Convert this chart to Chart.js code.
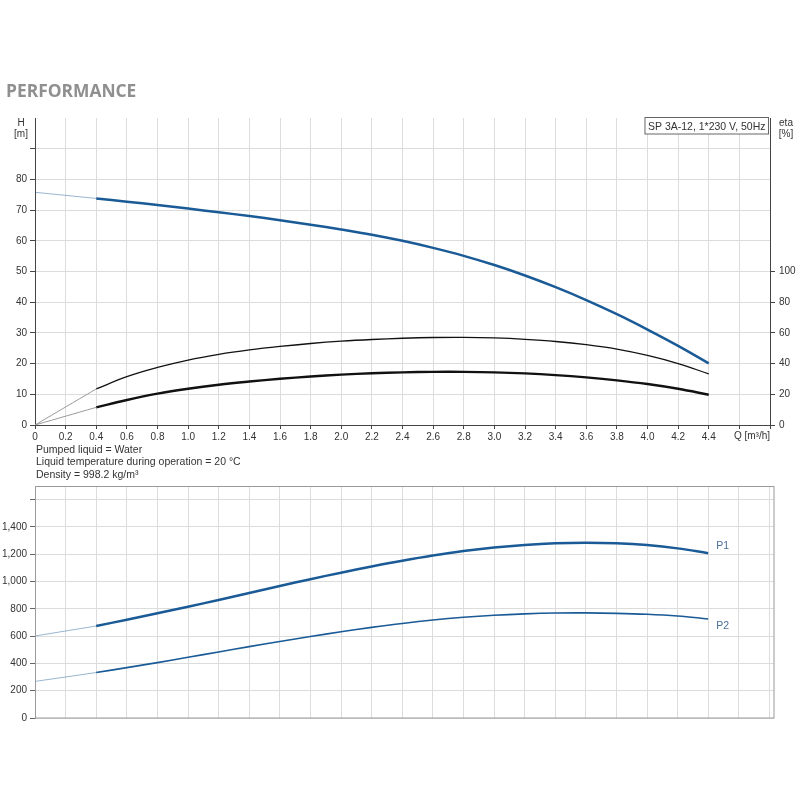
<!DOCTYPE html>
<html><head><meta charset="utf-8">
<script src="https://cdn.jsdelivr.net/npm/chart.js@4.4.1/dist/chart.umd.min.js"></script>
<style>
html,body{margin:0;padding:0;background:#fff;width:800px;height:800px;overflow:hidden;}
#c1{position:absolute;left:0;top:0;}
#c2{position:absolute;left:0;top:450px;}
.title{position:absolute;left:6px;top:77.5px;font:700 17.4px 'Open Sans';color:#8f8f8f;z-index:2;white-space:nowrap;}
.notes{position:absolute;left:36px;top:442.5px;font:10.5px 'Liberation Sans';color:#333;line-height:12.7px;z-index:2;white-space:nowrap;}
</style></head>
<body>
<div class="title">PERFORMANCE</div>
<canvas id="c1" width="800" height="450"></canvas>
<canvas id="c2" width="800" height="350"></canvas>
<div class="notes">Pumped liquid = Water<br>Liquid temperature during operation = 20 °C<br>Density = 998.2 kg/m³</div>
<script>
// ---- data ----
const flowQ    = [0.4,0.6,0.8,1.0,1.2,1.4,1.6,1.8,2.0,2.2,2.4,2.6,2.8,3.0,3.2,3.4,3.6,3.8,4.0,4.2,4.4];
const headH    = [73.8,72.75,71.65,70.5,69.3,68.05,66.7,65.25,63.7,62.0,60.0,57.7,55.1,52.1,48.7,44.9,40.7,36.1,31.1,25.8,20.1];
const etaPump  = [23.5,31.5,37.5,42.3,46.0,48.9,51.2,53.1,54.6,55.7,56.5,57.0,57.1,56.7,55.8,54.4,52.3,49.4,45.3,40.0,33.3];
const etaTotal = [11.5,16.3,20.4,23.6,26.2,28.3,30.1,31.6,32.8,33.7,34.3,34.6,34.6,34.3,33.6,32.5,31.0,29.1,26.7,23.6,19.7];
const powerP1  = [674,720,767,815,865,916,967,1017,1065,1110,1152,1190,1223,1249,1268,1280,1284,1280,1267,1243,1208];
const powerP2  = [333,369,406,445,484,523,561,597,632,664,693,718,738,753,763,769,770,767,760,747,726];
// extrapolated start values at Q = 0
const zeroQ = 0;
const headAtZero = 75.8;
const etaPumpAtZero = 0;
const etaTotalAtZero = 0;
const p1AtZero = 601;
const p2AtZero = 268;
// tick labels / texts
const modelLabel = 'SP 3A-12, 1*230 V, 50Hz';
const qAxisLabel = 'Q [m³/h]';
const hAxisLabel = ['H','[m]'];
const etaAxisLabel = ['eta','[%]'];
const pAxisLabel = ['P','[W]'];
const seriesNames = ['P1','P2'];

const pts = (xs, ys) => xs.map((x,i)=>({x:x, y:ys[i]}));
const ext = (y0, ys) => [{x:zeroQ, y:y0}, {x:flowQ[0], y:ys[0]}];

Chart.defaults.font.family = "'Liberation Sans', Arial, sans-serif";
Chart.defaults.font.size = 10;
Chart.defaults.color = '#333';

const BLUE = '#1a5a96';
const BLUE_LIGHT = 'rgba(26,90,150,0.45)';
const GRID = '#dcdcdc';
const AXIS = '#444';

const line = (data, color, w, axis) => ({data, borderColor:color, borderWidth:w, pointRadius:0, fill:false,
  tension:0.4, yAxisID:axis});

const topPlugin = {
  id:'topDeco',
  afterDraw(chart){
    const c = chart.ctx, a = chart.chartArea;
    c.save();
    c.fillStyle = '#333';
    c.font = "10px 'Liberation Sans'";
    c.textAlign = 'center'; c.textBaseline = 'alphabetic';
    c.fillText(hAxisLabel[0], 21, 126);
    c.fillText(hAxisLabel[1], 21, 136.5);
    c.fillText(etaAxisLabel[0], 786, 126);
    c.fillText(etaAxisLabel[1], 786, 136.5);
    c.textAlign = 'right';
    c.fillText(qAxisLabel, a.right, 439);
    // legend box
    c.font = "10.5px 'Liberation Sans'";
    const tw = c.measureText(modelLabel).width;
    const bx = a.right - tw - 8, by = 117.5, bw = tw + 6, bh = 16.5;
    c.fillStyle = '#fff';
    c.fillRect(bx, by, bw, bh);
    c.strokeStyle = '#666'; c.lineWidth = 1;
    c.strokeRect(bx+0.5, by, bw, bh);
    c.fillStyle = '#333'; c.textAlign = 'left';
    c.fillText(modelLabel, bx + 3.5, 129.5);
    c.restore();
  }
};

new Chart(document.getElementById('c1'), {
  type:'line',
  data:{datasets:[
    line(ext(etaPumpAtZero, etaPump), '#9a9a9a', 1, 'yEta'),
    line(ext(etaTotalAtZero, etaTotal), '#9a9a9a', 1, 'yEta'),
    line(ext(headAtZero, headH), BLUE_LIGHT, 1, 'y'),
    line(pts(flowQ, etaPump), '#111', 1.3, 'yEta'),
    line(pts(flowQ, etaTotal), '#111', 2.4, 'yEta'),
    line(pts(flowQ, headH), BLUE, 2.5, 'y')
  ]},
  options:{
    responsive:false, animation:false, devicePixelRatio:1,
    layout:{padding:{top:118, left:0, right:0, bottom:0}},
    plugins:{legend:{display:false}, tooltip:{enabled:false}},
    scales:{
      x:{type:'linear', min:0, max:4.8,
        ticks:{stepSize:0.2, autoSkip:false, maxRotation:0, padding:2,
          callback:v=> v>4.5 ? '' : (v===0 ? '0' : v.toFixed(1))},
        grid:{color:GRID, tickColor:AXIS, tickLength:4},
        border:{color:AXIS},
        afterFit:s=>{s.height=25;}},
      y:{position:'left', min:0, max:100,
        ticks:{stepSize:10, padding:3, callback:v=> v>85 ? '' : String(v)},
        grid:{color:ctx=> (ctx.tick && ctx.tick.value===100) ? 'rgba(0,0,0,0)' : GRID,
              tickColor:ctx=> (ctx.tick && ctx.tick.value===100) ? 'rgba(0,0,0,0)' : AXIS, tickLength:5},
        border:{color:AXIS},
        afterFit:s=>{s.width=35;}},
      yEta:{position:'right', min:0, max:200,
        ticks:{stepSize:20, padding:4},
        afterBuildTicks:s=>{ s.ticks = s.ticks.filter(t=>t.value<=100); },
        grid:{drawOnChartArea:false, tickColor:AXIS, tickLength:5},
        border:{color:AXIS},
        afterFit:s=>{s.width=30;}}
    }
  },
  plugins:[topPlugin]
});

const botPlugin = {
  id:'botDeco',
  afterDraw(chart){
    const c = chart.ctx, a = chart.chartArea;
    const xs = chart.scales.x, ys = chart.scales.y;
    c.save();
    c.strokeStyle = '#9a9a9a'; c.lineWidth = 1;
    c.strokeRect(a.left+0.5, a.top+0.5, a.right-a.left-0.5, a.bottom-a.top-0.5);
    c.fillStyle = '#333';
    c.font = "10px 'Liberation Sans'";
    c.textAlign = 'center'; c.textBaseline = 'alphabetic';
    c.fillText(pAxisLabel[0], 16.5, 494);
    c.fillText(pAxisLabel[1], 16.5, 505.5);
    c.fillStyle = '#4a6f9a';
    c.textAlign = 'left'; c.textBaseline = 'middle';
    c.font = "10.5px 'Liberation Sans'";
    const lastQ = flowQ[flowQ.length-1];
    c.fillText(seriesNames[0], xs.getPixelForValue(lastQ)+8, ys.getPixelForValue(powerP1[powerP1.length-1])-7);
    c.fillText(seriesNames[1], xs.getPixelForValue(lastQ)+8, ys.getPixelForValue(powerP2[powerP2.length-1])+7);
    c.restore();
  }
};

new Chart(document.getElementById('c2'), {
  type:'line',
  data:{datasets:[
    line(ext(p1AtZero, powerP1), BLUE_LIGHT, 1, 'y'),
    line(ext(p2AtZero, powerP2), BLUE_LIGHT, 1, 'y'),
    line(pts(flowQ, powerP2), BLUE, 1.6, 'y'),
    line(pts(flowQ, powerP1), BLUE, 2.5, 'y')
  ]},
  options:{
    responsive:false, animation:false, devicePixelRatio:1,
    layout:{padding:{top:36, left:0, right:26, bottom:0}},
    plugins:{legend:{display:false}, tooltip:{enabled:false}},
    scales:{
      x:{type:'linear', min:0, max:4.83,
        ticks:{display:false},
        afterBuildTicks:s=>{ const t=[]; for(let i=0;i<=24;i++) t.push({value:Math.round(i*2)/10}); s.ticks=t; },
        grid:{color:GRID, drawTicks:false},
        border:{display:false},
        afterFit:s=>{s.height=82;}},
      y:{position:'left', min:0, max:1700,
        ticks:{padding:3, callback:v=> v>1500 ? '' : v.toLocaleString('en-US')},
        afterBuildTicks:s=>{ const t=[]; for(let v=0;v<=1600;v+=200) t.push({value:v}); s.ticks=t; },
        grid:{color:GRID, tickColor:'#666', tickLength:5},
        border:{color:'#9a9a9a'},
        afterFit:s=>{s.width=35;}}
    }
  },
  plugins:[botPlugin]
});
</script>
</body></html>
